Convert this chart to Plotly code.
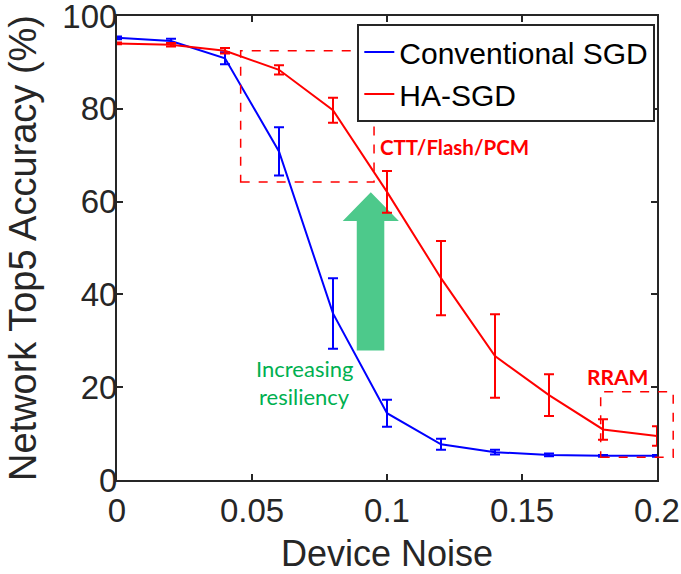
import plotly.graph_objects as go

noise = [0, 0.02, 0.04, 0.06, 0.08, 0.10, 0.12, 0.14, 0.16, 0.18, 0.20]
conv_acc = [95.3, 94.6, 90.9, 70.8, 35.9, 14.4, 7.7, 6.0, 5.4, 5.2, 5.2]
conv_err = [0.3, 0.5, 1.3, 5.2, 7.6, 2.9, 1.2, 0.5, 0.3, 0.2, 0.2]
ha_acc = [94.1, 93.8, 92.5, 88.4, 79.7, 62.1, 43.5, 26.7, 18.3, 10.9, 9.5]
ha_err = [0.2, 0.4, 0.6, 1.0, 2.7, 4.5, 8.0, 9.0, 4.5, 2.2, 2.1]

axis_col = "#262626"
font_main = "Liberation Sans, Arial, sans-serif"
font_note = "Lato, sans-serif"

fig = go.Figure()
fig.add_trace(go.Scatter(
    x=noise, y=conv_acc, mode="lines", name="Conventional SGD",
    line=dict(color="#0000FF", width=2),
    error_y=dict(type="data", array=conv_err, color="#0000FF", thickness=2, width=5)))
fig.add_trace(go.Scatter(
    x=noise, y=ha_acc, mode="lines", name="HA-SGD",
    line=dict(color="#FF0000", width=2),
    error_y=dict(type="data", array=ha_err, color="#FF0000", thickness=2, width=5)))

# dashed boxes
fig.add_shape(type="rect", x0=0.0458, x1=0.0952, y0=64.2, y1=92.5,
              line=dict(color="#FF0000", width=1.5, dash="dash"))
fig.add_shape(type="rect", xref="paper", yref="paper", x0=0.8957, x1=1.030, y0=0.049, y1=0.19,
              line=dict(color="#FF0000", width=1.5, dash="dash"))

# green arrow
ax0, ax1, hx0, hx1 = 0.0888, 0.0990, 0.0836, 0.1044
ytip, ybase, ybot = 62.0, 55.8, 27.9
xm = (hx0 + hx1) / 2
path = (f"M {ax0},{ybot} L {ax1},{ybot} L {ax1},{ybase} L {hx1},{ybase} "
        f"L {xm},{ytip} L {hx0},{ybase} L {ax0},{ybase} Z")
fig.add_shape(type="path", path=path, fillcolor="#4DC98B",
              line=dict(width=0), layer="below")

fig.add_annotation(x=0.0967, y=71.8, text="<b>CTT/Flash/PCM</b>", showarrow=False,
                   xanchor="left", font=dict(family=font_note, size=20.5, color="#FF0000"))
fig.add_annotation(x=0.1852, y=22.4, text="<b>RRAM</b>", showarrow=False,
                   font=dict(family=font_note, size=21, color="#FF0000"))
fig.add_annotation(x=0.0696, y=24.1, text="Increasing", showarrow=False,
                   font=dict(family=font_note, size=22, color="#00B050"))
fig.add_annotation(x=0.0696, y=18.1, text="resiliency", showarrow=False,
                   font=dict(family=font_note, size=22, color="#00B050"))

fig.update_xaxes(range=[0, 0.2], tickvals=[0, 0.05, 0.1, 0.15, 0.2],
                 ticktext=["0", "0.05", "0.1", "0.15", "0.2"],
                 ticks="inside", ticklen=6, tickwidth=2, tickcolor=axis_col,
                 showline=True, linewidth=2, linecolor=axis_col, mirror="ticks",
                 showgrid=False, zeroline=False, automargin=False,
                 ticklabeloverflow="allow",
                 tickfont=dict(size=33, color=axis_col, family=font_main),
                 title=dict(text="Device Noise", font=dict(size=36, color=axis_col, family=font_main), standoff=16))
fig.update_yaxes(range=[0, 100], tickvals=[0, 20, 40, 60, 80, 100],
                 ticks="inside", ticklen=6, tickwidth=2, tickcolor=axis_col,
                 showline=True, linewidth=2, linecolor=axis_col, mirror="ticks",
                 showgrid=False, zeroline=False, automargin=False,
                 ticklabeloverflow="allow", ticklabelstandoff=-9,
                 tickfont=dict(size=33, color=axis_col, family=font_main),
                 title=dict(text="Network Top5 Accuracy (%)", font=dict(size=38, color=axis_col, family=font_main), standoff=14))

fig.update_layout(
    width=681, height=574,
    margin=dict(l=117, r=24, t=16, b=94),
    plot_bgcolor="white", paper_bgcolor="white",
    legend=dict(x=0.445, y=0.983, xanchor="left", yanchor="top",
                bgcolor="white", bordercolor=axis_col, borderwidth=2,
                font=dict(size=30, color="black", family=font_main),
                itemwidth=30, tracegroupgap=0),
)

# remove the browser's default 8px body margin so the figure sits at the page origin
fig.write_html("out.html", config={"displayModeBar": False},
               post_script="document.body.style.margin='0px';")
